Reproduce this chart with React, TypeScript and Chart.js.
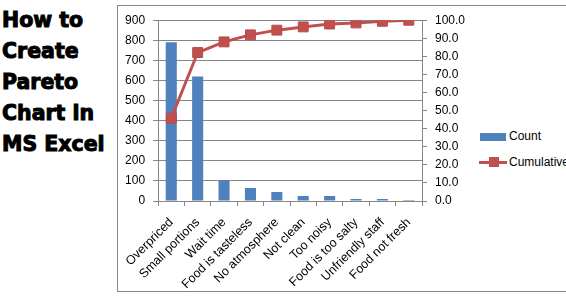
import React, { useEffect, useRef } from "react";
import { Chart, registerables } from "chart.js";

Chart.register(...registerables);

const categories = [
  "Overpriced",
  "Small portions",
  "Wait time",
  "Food is tasteless",
  "No atmosphere",
  "Not clean",
  "Too noisy",
  "Food is too salty",
  "Unfriendly staff",
  "Food not fresh",
];
const counts = [790, 620, 105, 65, 45, 25, 25, 10, 10, 5];
const cumulative = [45.8, 82.1, 88.0, 91.9, 94.5, 96.3, 97.9, 98.5, 99.4, 100.0];
const titleLines = ["How to", "Create", "Pareto", "Chart in", "MS Excel"];
const seriesNames = ["Count", "Cumulative"];

const BLUE = "#4F81BD";
const RED = "#C0504D";
const GRID = "#868686";
const FONT = { family: "'Liberation Sans', Arial, sans-serif", size: 12 };
const XFONT = { family: "'Liberation Sans', Arial, sans-serif", size: 12.5 };

export default function App() {
  const ref = useRef<HTMLCanvasElement | null>(null);

  useEffect(() => {
    document.body.style.margin = "0";
    const ctx = ref.current;
    if (!ctx) return;
    const chart = new Chart(ctx, {
      type: "bar",
      data: {
        labels: categories,
        datasets: [
          {
            type: "line",
            label: seriesNames[1],
            data: cumulative,
            yAxisID: "y1",
            borderColor: RED,
            backgroundColor: RED,
            borderWidth: 3,
            pointStyle: "rect",
            pointRadius: 7,
            pointBorderWidth: 1,
            pointBorderColor: "#B8484A",
            order: 1,
          } as any,
          {
            type: "bar",
            label: seriesNames[0],
            data: counts,
            yAxisID: "y",
            backgroundColor: BLUE,
            barPercentage: 0.42,
            categoryPercentage: 1,
            order: 2,
          },
        ],
      },
      options: {
        responsive: false,
        animation: false,
        layout: { padding: { top: 14, left: 0, right: 0, bottom: 0 } },
        plugins: { legend: { display: false }, tooltip: { enabled: false } },
        scales: {
          x: {
            grid: { drawOnChartArea: false, drawTicks: true, tickLength: 5, color: GRID, offset: true },
            border: { color: GRID },
            ticks: { minRotation: 45, maxRotation: 45, autoSkip: false, color: "#000", font: XFONT, padding: 9 },
            afterFit: (s: any) => { s.height = 90; },
          },
          y: {
            position: "left",
            min: 0,
            max: 900,
            ticks: { stepSize: 100, color: "#000", font: FONT, padding: 8 },
            grid: { color: GRID, tickLength: 5 },
            border: { color: GRID },
            afterFit: (s: any) => { s.width = 41; },
          },
          y1: {
            position: "right",
            min: 0,
            max: 100,
            ticks: {
              stepSize: 10,
              color: "#000",
              font: FONT,
              padding: 8,
              callback: (v: any) => Number(v).toFixed(1),
            },
            grid: { drawOnChartArea: false, color: GRID, tickLength: 5 },
            border: { color: GRID },
            afterFit: (s: any) => { s.width = 55; },
          },
        },
      },
    });
    return () => chart.destroy();
  }, []);

  return (
    <div style={{ position: "fixed", left: 0, top: 0, width: 566, height: 297, background: "#fff", overflow: "hidden" }}>
      <div
        style={{
          position: "absolute",
          left: 2,
          top: 5,
          fontFamily: "'DejaVu Sans', sans-serif",
          fontWeight: 700,
          fontSize: 20.5,
          lineHeight: "31px",
          color: "#000",
          WebkitTextStroke: "1px #000",
          whiteSpace: "nowrap",
        }}
      >
        {titleLines.map((t) => (
          <div key={t}>{t}</div>
        ))}
      </div>
      <div
        style={{
          position: "absolute",
          left: 117,
          top: 5,
          width: 470,
          height: 285,
          border: "1px solid #888",
        }}
      />
      <canvas ref={ref} width={360} height={286} style={{ position: "absolute", left: 117, top: 5 }} />
      <div style={{ position: "absolute", left: 480, top: 133, width: 26, height: 8, background: BLUE }} />
      <div style={{ position: "absolute", left: 509, top: 129, font: "12px 'Liberation Sans', Arial, sans-serif", color: "#000" }}>
        {seriesNames[0]}
      </div>
      <div style={{ position: "absolute", left: 479, top: 161, width: 28, height: 3, background: RED }} />
      <div style={{ position: "absolute", left: 489, top: 157, width: 10, height: 10, background: RED }} />
      <div style={{ position: "absolute", left: 509, top: 155, font: "12px 'Liberation Sans', Arial, sans-serif", color: "#000", whiteSpace: "nowrap" }}>
        {seriesNames[1]}
      </div>
    </div>
  );
}
